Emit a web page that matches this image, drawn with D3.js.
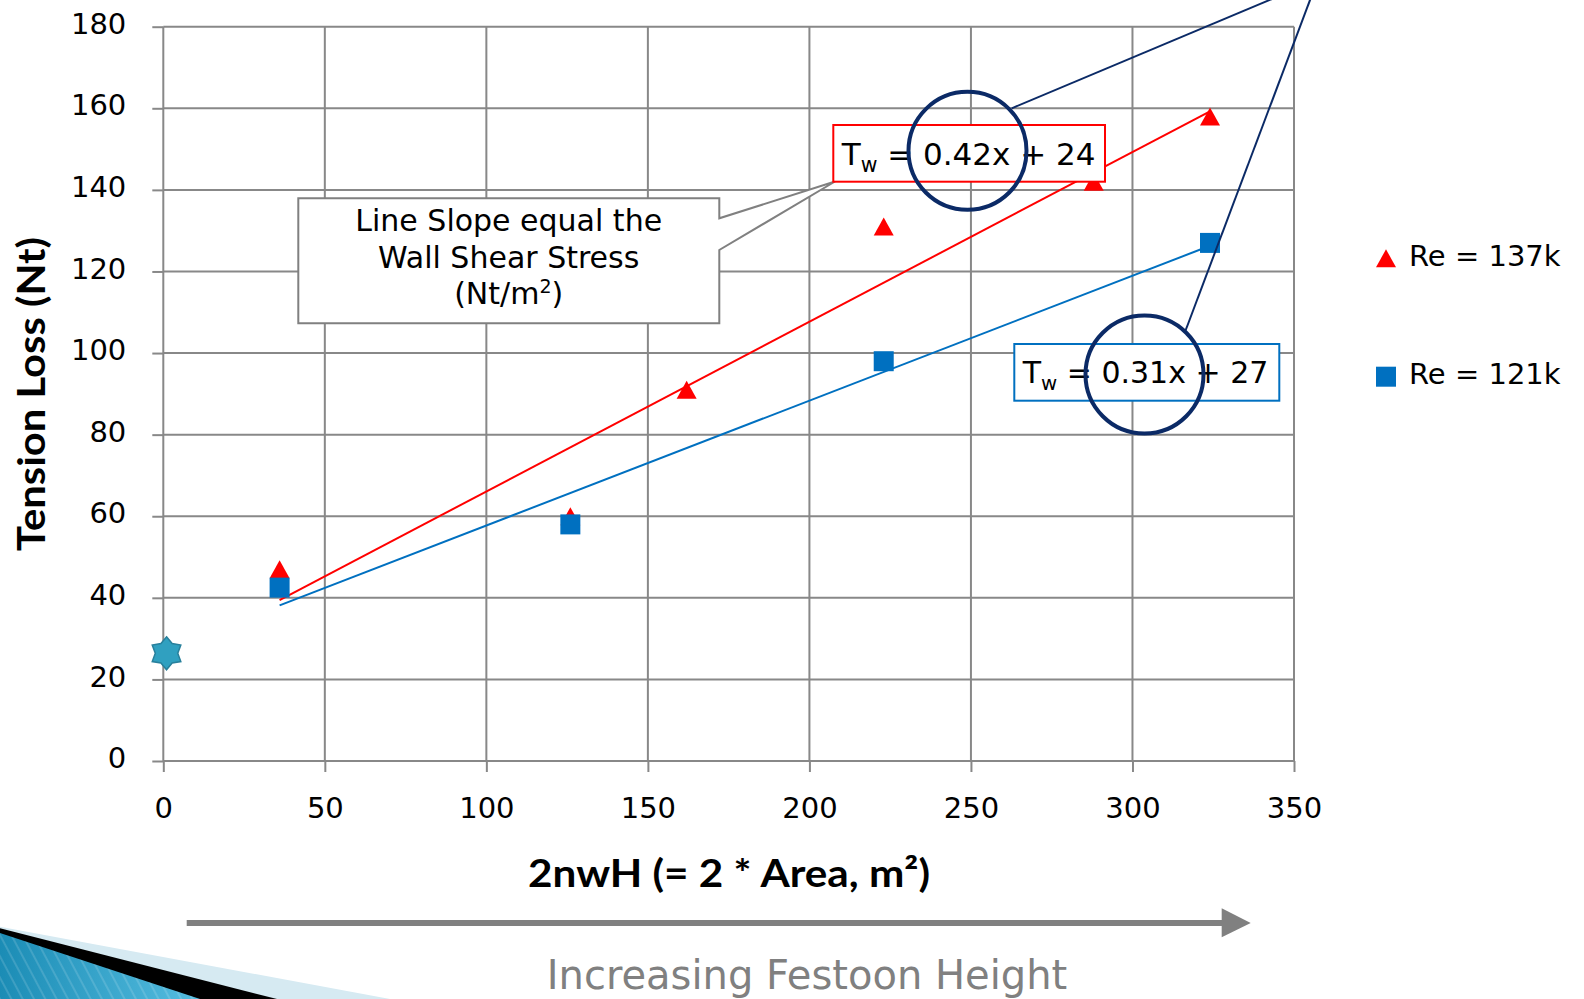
<!DOCTYPE html>
<html>
<head>
<meta charset="utf-8">
<script src="https://cdn.jsdelivr.net/npm/d3@7"></script>
<style>
  html, body { margin: 0; padding: 0; background: #fff; overflow: hidden; }
  svg { display: block; font-family: "DejaVu Sans", sans-serif; }
</style>
</head>
<body>
<svg id="chart" width="1584" height="999"></svg>
<script>
// ---------------- data ----------------
const xTicks = [0, 50, 100, 150, 200, 250, 300, 350];
const yTicks = [0, 20, 40, 60, 80, 100, 120, 140, 160, 180];

const seriesNames = ["Re = 137k", "Re = 121k"];
const re137X = [36, 126, 162, 223, 288, 324];
const re137Y = [47, 60, 91, 131, 142, 158];
const re121X = [36, 126, 223, 324];
const re121Y = [42.5, 58, 98, 127];
const refX = [1];
const refY = [26.4];

const eqRedText = ["T", "w", " = 0.42x + 24"];
const eqBlueText = ["T", "w", " = 0.31x + 27"];
const calloutLines = ["Line Slope equal the", "Wall Shear Stress", "(Nt/m", "2", ")"];
const xTitle = "2nwH (= 2 * Area, m²)";
const yTitle = "Tension Loss (Nt)";
const arrowLabel = "Increasing Festoon Height";

// ---------------- setup ----------------
const svg = d3.select("#chart");
const x = d3.scaleLinear().domain([0, 350]).range([163.3, 1294]);
const y = d3.scaleLinear().domain([0, 180]).range([761, 26.7]);
const gridColor = "#888888";
const red = "#ff0000", blue = "#0070c0", navy = "#0b2a66";

const defs = svg.append("defs");

// ---------------- decoration (bottom-left) ----------------
const grad = defs.append("linearGradient").attr("id", "blueGrad")
  .attr("x1", "0").attr("y1", "0").attr("x2", "1").attr("y2", "0");
grad.append("stop").attr("offset", "0").attr("stop-color", "#1b8cb5");
grad.append("stop").attr("offset", "1").attr("stop-color", "#55bde0");
const pat = defs.append("pattern").attr("id", "stripes")
  .attr("patternUnits", "userSpaceOnUse").attr("width", 10).attr("height", 10)
  .attr("patternTransform", "rotate(-28)");
pat.append("line").attr("x1", 1).attr("y1", 0).attr("x2", 1).attr("y2", 10)
  .attr("stroke", "rgba(255,255,255,0.18)").attr("stroke-width", 1.5);

const deco = svg.append("g");
deco.append("polygon").attr("points", "0,926.7 390,999 0,999").attr("fill", "#d6eaf2");
deco.append("polygon").attr("points", "0,928.3 277,999 0,999").attr("fill", "#000");
deco.append("polygon").attr("points", "0,933 200,999 0,999").attr("fill", "url(#blueGrad)");
deco.append("polygon").attr("points", "0,933 200,999 0,999").attr("fill", "url(#stripes)");

// ---------------- grid ----------------
const grid = svg.append("g");
grid.selectAll("line.h").data(yTicks).join("line")
  .attr("x1", x(0)).attr("x2", x(350))
  .attr("y1", d => y(d)).attr("y2", d => y(d))
  .attr("stroke", gridColor).attr("stroke-width", 2);
grid.selectAll("line.v").data(xTicks).join("line")
  .attr("y1", y(0)).attr("y2", y(180))
  .attr("x1", d => x(d)).attr("x2", d => x(d))
  .attr("stroke", gridColor).attr("stroke-width", 2);

// ---------------- axes ----------------
const yAxis = svg.append("g").attr("transform", `translate(${x(0)},0)`)
  .call(d3.axisLeft(y).tickValues(yTicks).tickSize(11).tickPadding(26));
const xAxis = svg.append("g").attr("transform", `translate(0,${y(0)})`)
  .call(d3.axisBottom(x).tickValues(xTicks).tickSize(11).tickPadding(25.7));
[yAxis, xAxis].forEach(a => {
  a.select(".domain").remove();
  a.selectAll(".tick line").attr("stroke", gridColor).attr("stroke-width", 2);
  a.selectAll(".tick text").attr("fill", "#000")
    .style("font-family", "DejaVu Sans").style("font-size", "29px");
});
yAxis.selectAll(".tick text").attr("dy", "0.23em");
xAxis.selectAll(".tick text").attr("dy", "0.71em");

// axis titles
svg.append("text").attr("x", 729).attr("y", 887)
  .attr("text-anchor", "middle").attr("font-weight", "bold").attr("font-size", 39)
  .style("font-family", "Lato, 'DejaVu Sans', sans-serif")
  .attr("textLength", 402).attr("lengthAdjust", "spacingAndGlyphs")
  .attr("fill", "#000").text(xTitle);
svg.append("text").attr("transform", "translate(45,394) rotate(-90)")
  .attr("text-anchor", "middle").attr("font-weight", "bold").attr("font-size", 38)
  .style("font-family", "Lato, 'DejaVu Sans', sans-serif")
  .attr("textLength", 314).attr("lengthAdjust", "spacingAndGlyphs")
  .attr("fill", "#000").text(yTitle);

// ---------------- trend lines (least squares from data) ----------------
function fit(xs, ys) {
  const mx = d3.mean(xs), my = d3.mean(ys);
  let sxy = 0, sxx = 0;
  xs.forEach((v, i) => { sxy += (v - mx) * (ys[i] - my); sxx += (v - mx) * (v - mx); });
  const m = sxy / sxx;
  return { m, b: my - m * mx, x0: d3.min(xs), x1: d3.max(xs) };
}
const trendGroup = svg.append("g");
[[re137X, re137Y, red], [re121X, re121Y, blue]].forEach(([xs, ys, c]) => {
  const f = fit(xs, ys);
  trendGroup.append("line")
    .attr("x1", x(f.x0)).attr("y1", y(f.m * f.x0 + f.b))
    .attr("x2", x(f.x1)).attr("y2", y(f.m * f.x1 + f.b))
    .attr("stroke", c).attr("stroke-width", 2);
});

// ---------------- markers ----------------
const triPath = (cx, cy, w, h) => `M${cx},${cy - h / 2}L${cx + w / 2},${cy + h / 2}L${cx - w / 2},${cy + h / 2}Z`;
const marks = svg.append("g");
marks.selectAll("path.tri").data(re137X.map((v, i) => [v, re137Y[i]])).join("path")
  .attr("d", d => triPath(x(d[0]), y(d[1]), 20, 18)).attr("fill", red);
marks.selectAll("rect.sq").data(re121X.map((v, i) => [v, re121Y[i]])).join("rect")
  .attr("x", d => x(d[0]) - 10).attr("y", d => y(d[1]) - 10)
  .attr("width", 20).attr("height", 20).attr("fill", blue);

function hexagram(cx, cy, R) {
  const pts = [];
  const r = R * 0.68;
  for (let k = 0; k < 12; k++) {
    const ang = -Math.PI / 2 + k * Math.PI / 6;
    const rad = k % 2 === 0 ? R : r;
    pts.push([cx + rad * Math.cos(ang), cy + rad * Math.sin(ang)]);
  }
  return "M" + pts.map(p => p.join(",")).join("L") + "Z";
}
marks.selectAll("path.star").data(refX.map((v, i) => [v, refY[i]])).join("path")
  .attr("d", d => hexagram(x(d[0]), y(d[1]), 16.5))
  .attr("fill", "#30a0c0").attr("stroke", "#28809c").attr("stroke-width", 1.5);

// ---------------- callout ----------------
svg.append("path")
  .attr("d", "M298.3,198.3H719.3V218.3L835,181.5L719.3,250V323.3H298.3Z")
  .attr("fill", "#fff").attr("stroke", "#808080").attr("stroke-width", 2)
  .attr("stroke-linejoin", "miter");
const ct = svg.append("g").attr("font-size", 30).attr("fill", "#000").attr("text-anchor", "middle");
ct.append("text").attr("x", 508.7).attr("y", 230.7).text(calloutLines[0]);
ct.append("text").attr("x", 508.7).attr("y", 268.3).text(calloutLines[1]);
const l3 = ct.append("text").attr("x", 508.7).attr("y", 304);
l3.append("tspan").text(calloutLines[2]);
l3.append("tspan").attr("font-size", 19).attr("dy", -11).text(calloutLines[3]);
l3.append("tspan").attr("dy", 11).text(calloutLines[4]);

// ---------------- equation boxes ----------------
function eqBox(x0, y0, x1, y1, color, tx, ty, fs, parts) {
  svg.append("rect").attr("x", x0).attr("y", y0).attr("width", x1 - x0).attr("height", y1 - y0)
    .attr("fill", "#fff").attr("stroke", color).attr("stroke-width", 2);
  const t = svg.append("text").attr("x", tx).attr("y", ty).attr("font-size", fs).attr("fill", "#000")
    .attr("xml:space", "preserve");
  t.append("tspan").text(parts[0]);
  t.append("tspan").attr("font-size", fs * 0.66).attr("dy", 7).text(parts[1]);
  t.append("tspan").attr("dy", -7).text(parts[2]);
}
eqBox(833.3, 125, 1105, 181.7, red, 841.7, 165, 31, eqRedText);
eqBox(1014.3, 344, 1279.3, 400.7, blue, 1022.7, 382.7, 30, eqBlueText);

// ---------------- highlight circles + leader lines ----------------
const ann = svg.append("g").attr("fill", "none").attr("stroke", navy);
ann.append("circle").attr("cx", 967.5).attr("cy", 150.8).attr("r", 59).attr("stroke-width", 4);
ann.append("circle").attr("cx", 1144.5).attr("cy", 374.5).attr("r", 59).attr("stroke-width", 4);
ann.append("line").attr("x1", 1011.7).attr("y1", 108.3).attr("x2", 1293.4).attr("y2", -10).attr("stroke-width", 2);
ann.append("line").attr("x1", 1185).attr("y1", 332).attr("x2", 1313.8).attr("y2", -10).attr("stroke-width", 2);

// ---------------- legend ----------------
const leg = svg.append("g").attr("font-size", 29).attr("fill", "#000");
leg.append("path").attr("d", triPath(1386, 258.3, 20, 18)).attr("fill", red);
leg.append("text").attr("x", 1409).attr("y", 266).attr("xml:space", "preserve").text(seriesNames[0]);
leg.append("rect").attr("x", 1376).attr("y", 366.7).attr("width", 20).attr("height", 20).attr("fill", blue);
leg.append("text").attr("x", 1409).attr("y", 384.3).attr("xml:space", "preserve").text(seriesNames[1]);

// ---------------- bottom arrow ----------------
svg.append("line").attr("x1", 186.7).attr("x2", 1223).attr("y1", 923).attr("y2", 923)
  .attr("stroke", "#808080").attr("stroke-width", 6);
svg.append("polygon").attr("points", "1221.7,908.3 1250.7,923 1221.7,937.3").attr("fill", "#808080");
svg.append("text").attr("x", 807).attr("y", 989).attr("text-anchor", "middle")
  .attr("font-size", 40).attr("fill", "#808080").text(arrowLabel);
</script>
</body>
</html>
